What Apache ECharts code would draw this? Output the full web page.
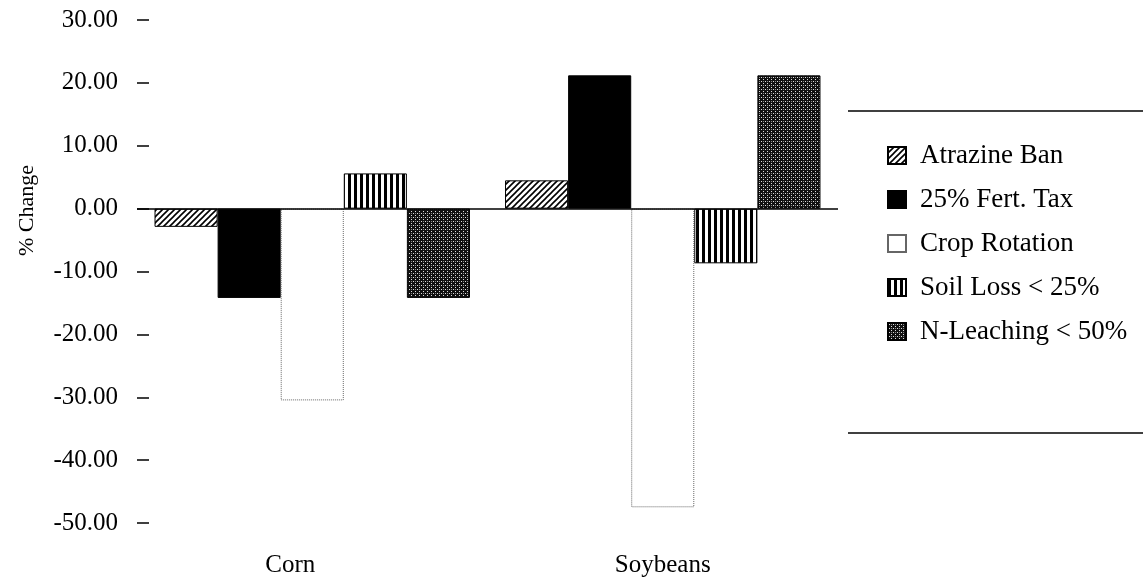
<!DOCTYPE html>
<html>
<head>
<meta charset="utf-8">
<script src="https://cdn.jsdelivr.net/npm/echarts@6.0.0/dist/echarts.min.js"></script>
<style>
  html, body { margin: 0; padding: 0; background: #fff; }
  #chart { width: 1143px; height: 584px; }
</style>
</head>
<body>
<div id="chart"></div>
<script>
  var CATEGORIES = ["Corn", "Soybeans"];
  var SERIES_NAMES = ["Atrazine Ban", "25% Fert. Tax", "Crop Rotation", "Soil Loss < 25%", "N-Leaching < 50%"];
  var ATRAZINE = [-2.9, 4.5];
  var FERT_TAX = [-14.2, 21.2];
  var CROP_ROT = [-30.5, -47.5];
  var SOIL_LOSS = [5.6, -8.7];
  var N_LEACH = [-14.2, 21.2];
  var Y_TICKS = [-50, -40, -30, -20, -10, 0, 10, 20, 30];

  var FONT = "Liberation Serif, Times New Roman, serif";

  function tile(w, h, draw) {
    var c = document.createElement("canvas");
    c.width = w; c.height = h;
    var ctx = c.getContext("2d");
    draw(ctx, w, h);
    return { image: c, repeat: "repeat" };
  }

  var hatch = tile(6, 6, function (ctx, w, h) {
    ctx.fillStyle = "#fff"; ctx.fillRect(0, 0, w, h);
    ctx.strokeStyle = "#000"; ctx.lineWidth = 1.6;
    ctx.beginPath();
    ctx.moveTo(-1, h + 1); ctx.lineTo(w + 1, -1);
    ctx.moveTo(-1, 1); ctx.lineTo(1, -1);
    ctx.moveTo(w - 1, h + 1); ctx.lineTo(w + 1, h - 1);
    ctx.stroke();
  });

  var stripes = tile(6, 4, function (ctx, w, h) {
    ctx.fillStyle = "#fff"; ctx.fillRect(0, 0, w, h);
    ctx.fillStyle = "#000"; ctx.fillRect(0, 0, 3, h);
  });

  var dots = tile(4, 4, function (ctx, w, h) {
    ctx.fillStyle = "#111"; ctx.fillRect(0, 0, w, h);
    ctx.fillStyle = "#ddd";
    ctx.fillRect(1, 1, 1, 1); ctx.fillRect(3, 3, 1, 1);
    ctx.fillStyle = "#888";
    ctx.fillRect(3, 1, 1, 1);
  });

  var styles = [
    { color: hatch, borderColor: "#000", borderWidth: 1 },
    { color: "#000", borderColor: "#000", borderWidth: 1 },
    { color: "#fff", borderColor: "#666", borderWidth: 1, borderType: "dotted" },
    { color: stripes, borderColor: "#000", borderWidth: 1 },
    { color: dots, borderColor: "#000", borderWidth: 1 }
  ];
  var values = [ATRAZINE, FERT_TAX, CROP_ROT, SOIL_LOSS, N_LEACH];

  var series = SERIES_NAMES.map(function (name, i) {
    var s = {
      name: name, type: "bar", data: values[i],
      barGap: "0%", barCategoryGap: "10%",
      itemStyle: styles[i], silent: true, animation: false
    };
    if (i === 0) {
      s.markLine = {
        silent: true, symbol: "none", animation: false,
        label: { show: false },
        lineStyle: { color: "#000", width: 1.5, type: "solid" },
        data: [{ yAxis: 0 }]
      };
    }
    return s;
  });

  var chart = echarts.init(document.getElementById("chart"), null, { renderer: "canvas" });
  chart.setOption({
    backgroundColor: "#fff",
    animation: false,
    grid: { left: 137, right: 305, top: 20, bottom: 61, containLabel: false, outerBoundsMode: "none" },
    legend: {
      orient: "vertical", left: 882, top: 137, icon: "rect",
      itemWidth: 18, itemHeight: 17, itemGap: 17,
      selectedMode: false,
      textStyle: { fontFamily: FONT, fontSize: 27, color: "#000", padding: [0, 0, 0, 9] },
      data: SERIES_NAMES
    },
    xAxis: {
      type: "category",
      data: CATEGORIES.map(function (c, i) {
        return i === 0 ? { value: c, textStyle: { padding: [0, 44, 0, 0] } } : c;
      }),
      axisLine: { show: false, onZero: false },
      axisTick: { show: false },
      axisLabel: { fontFamily: FONT, fontSize: 25, color: "#000", margin: 30 }
    },
    yAxis: {
      type: "value", min: Y_TICKS[0], max: Y_TICKS[Y_TICKS.length - 1], interval: 10,
      name: "% Change", nameLocation: "middle", nameRotate: 90, nameGap: 99,
      nameTextStyle: { fontFamily: FONT, fontSize: 22, color: "#000", padding: [0, 0, 0, 122] },
      axisLine: { show: false },
      axisTick: { show: true, inside: true, length: 12, lineStyle: { color: "#000", width: 1.5 } },
      splitLine: { show: false },
      axisLabel: {
        fontFamily: FONT, fontSize: 25, color: "#000", margin: 19,
        formatter: function (v) { return v.toFixed(2); }
      }
    },
    graphic: [
      { type: "line", shape: { x1: 848, y1: 111, x2: 1143, y2: 111 }, style: { stroke: "#000", lineWidth: 1.5 } },
      { type: "line", shape: { x1: 848, y1: 433, x2: 1143, y2: 433 }, style: { stroke: "#000", lineWidth: 1.5 } }
    ],
    series: series
  });
</script>
</body>
</html>
